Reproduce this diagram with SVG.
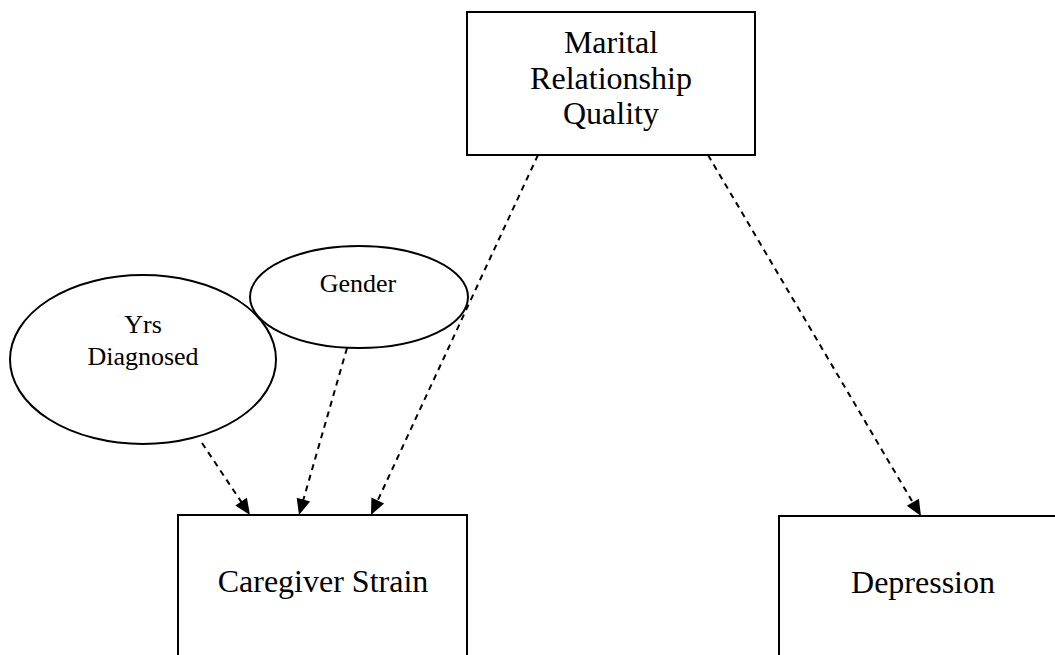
<svg xmlns="http://www.w3.org/2000/svg" width="1055" height="655" viewBox="0 0 1055 655">
<style>
.box{fill:#fff;stroke:#000;stroke-width:2}
.t{font-family:"Liberation Serif","Times New Roman",serif;fill:#000;text-anchor:middle}
.big{font-size:32px}
.mid{font-size:32px}
.sm{font-size:26px}
.edge{stroke:#000;stroke-width:2;stroke-dasharray:6 5;fill:none}
.head{fill:#000;stroke:none}
</style>
<rect width="1055" height="655" fill="#fff"/>
<g id="marital">
<rect class="box" x="467" y="12" width="288" height="143"/>
<text class="t mid" x="611" y="53">Marital</text>
<text class="t mid" x="611" y="89">Relationship</text>
<text class="t mid" x="611" y="124">Quality</text>
</g>
<g id="yrs">
<ellipse class="box" cx="143" cy="359.5" rx="133" ry="84.5"/>
<text class="t sm" x="143" y="333">Yrs</text>
<text class="t sm" x="143" y="365">Diagnosed</text>
</g>
<g id="gender">
<ellipse class="box" cx="359" cy="297" rx="109" ry="51"/>
<text class="t sm" x="358" y="292">Gender</text>
</g>
<g id="caregiver">
<rect class="box" x="178" y="515" width="289" height="160"/>
<text class="t big" x="323" y="592">Caregiver Strain</text>
</g>
<g id="depression">
<rect class="box" x="779" y="516" width="300" height="160"/>
<text class="t big" x="923" y="593">Depression</text>
</g>
<g id="connectors">
<line class="edge" x1="202" y1="443" x2="242" y2="503"/>
<polygon class="head" points="250,515 235.3,505.6 246.9,497.8"/>
<line class="edge" x1="347" y1="348" x2="303" y2="501"/>
<polygon class="head" points="299,515 296.7,497.7 310.1,501.5"/>
<line class="edge" x1="538" y1="155" x2="377" y2="502"/>
<polygon class="head" points="371,515 371.4,497.5 384.1,503.4"/>
<line class="edge" x1="708" y1="155" x2="912" y2="501"/>
<polygon class="head" points="921,516 906.8,505.8 918.9,498.7"/>
</g>
</svg>
